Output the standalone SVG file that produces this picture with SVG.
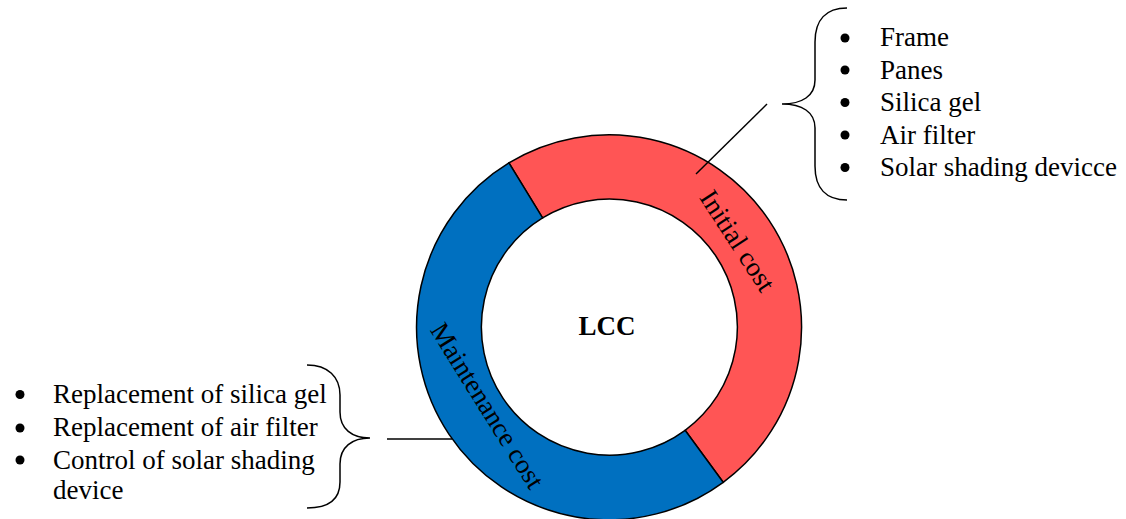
<svg xmlns="http://www.w3.org/2000/svg" width="1126" height="519" viewBox="0 0 1126 519">
<style>
.t{font-family:"Liberation Serif","Times New Roman",serif;font-size:27px;fill:#000}
.b{font-weight:bold}
.seg{stroke:#000;stroke-width:1.5}
.ln{stroke:#000;stroke-width:1.5;fill:none}
</style>
<rect width="1126" height="519" fill="#fff"/>
<g id="ring">
  <g id="initial-cost">
    <path class="seg" fill="#FF5555" d="M508.9,162.9 A192.5,192.5 0 0 1 723.2,482.3 L685.1,430.3 A128,128 0 0 0 542.6,217.9 Z"/>
    <text class="t" text-anchor="middle" transform="translate(737.5,240.7) rotate(57)" y="9">Initial cost</text>
  </g>
  <g id="maintenance-cost">
    <path class="seg" fill="#0070C0" d="M723.2,482.3 A192.5,192.5 0 1 1 508.9,162.9 L542.6,217.9 A128,128 0 1 0 685.1,430.3 Z"/>
    <text class="t" text-anchor="middle" transform="translate(487.3,405.7) rotate(58)" y="9">Maintenance cost</text>
  </g>
  <g id="lcc">
    <text class="t b" x="607" y="335" text-anchor="middle">LCC</text>
  </g>
</g>
<g id="connectors">
  <line class="ln" x1="696" y1="174" x2="767" y2="104"/>
  <line class="ln" x1="387" y1="439" x2="452" y2="439"/>
</g>
<g id="initial-list">
  <path class="ln" d="M847,8 C826,8 815,20 815,42 L815,80 C815,96 802,104 782,104 C802,104 815,112 815,128 L815,166 C815,188 826,200 847,200"/>
  <g fill="#000">
    <circle cx="845" cy="38" r="4.5"/>
    <circle cx="845" cy="70" r="4.5"/>
    <circle cx="845" cy="102.5" r="4.5"/>
    <circle cx="845" cy="135" r="4.5"/>
    <circle cx="845" cy="167.5" r="4.5"/>
  </g>
  <text class="t" x="880" y="46">Frame</text>
  <text class="t" x="880" y="78.5">Panes</text>
  <text class="t" x="880" y="111">Silica gel</text>
  <text class="t" x="880" y="143.5">Air filter</text>
  <text class="t" x="880" y="176">Solar shading devicce</text>
</g>
<g id="maintenance-list">
  <path class="ln" d="M307,365 C328,365 340,377 340,395 L340,412 C340,429 352,438 370,438 C352,438 340,447 340,464 L340,482 C340,500 328,508 307,508"/>
  <g fill="#000">
    <circle cx="20" cy="394.5" r="4.5"/>
    <circle cx="20" cy="428" r="4.5"/>
    <circle cx="20" cy="460" r="4.5"/>
  </g>
  <text class="t" x="53" y="403">Replacement of silica gel</text>
  <text class="t" x="53" y="436">Replacement of air filter</text>
  <text class="t" x="53" y="468.5">Control of solar shading</text>
  <text class="t" x="53" y="499">device</text>
</g>
</svg>
